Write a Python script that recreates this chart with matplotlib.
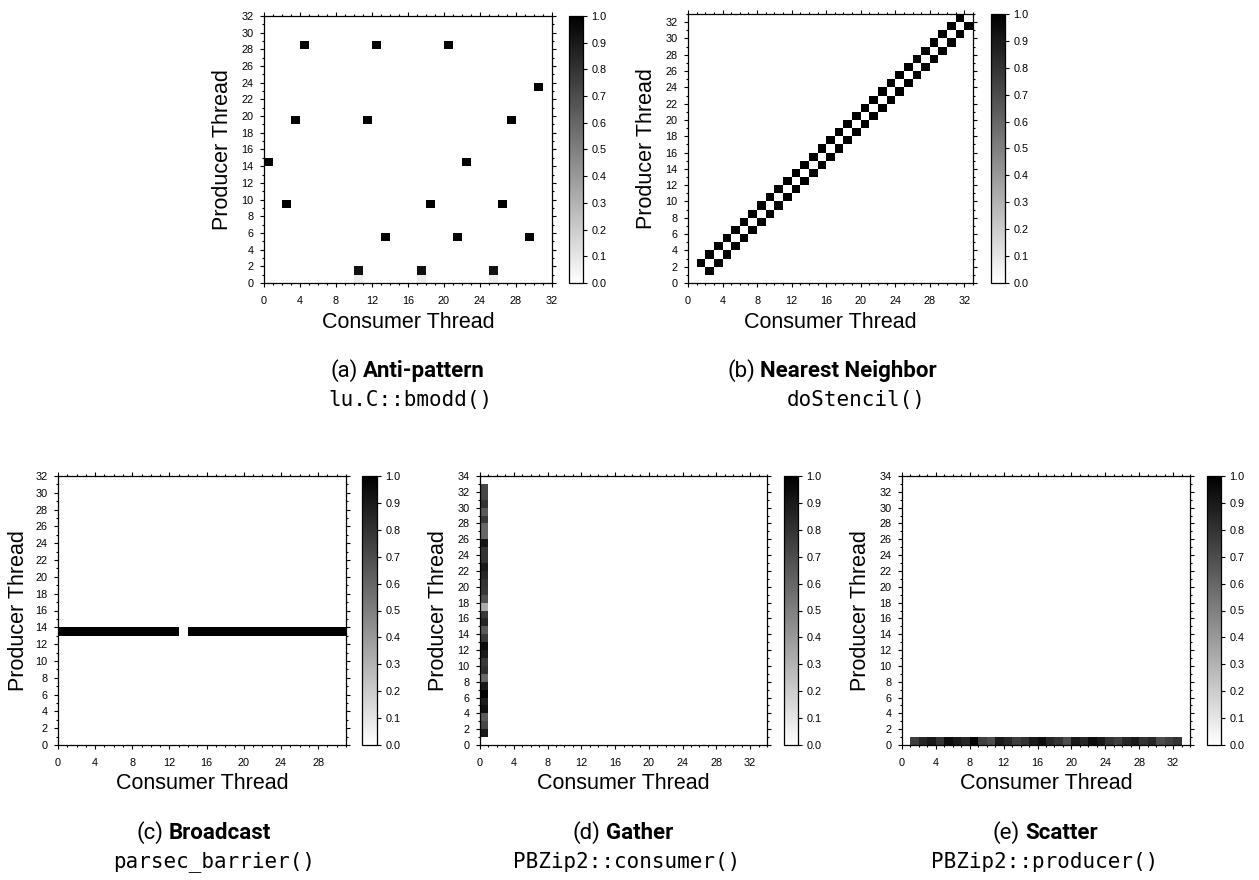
import matplotlib
matplotlib.use("Agg")
import matplotlib.pyplot as plt
import numpy as np
from matplotlib.ticker import MultipleLocator

# ---------------- data ----------------
# (a) Anti-pattern: lu.C::bmodd()
a_consumer = [4, 12, 20, 30, 3, 11, 27, 0, 22, 2, 18, 26, 13, 21, 29, 10, 17, 25, 10, 17, 25]
a_producer = [28, 28, 28, 23, 19, 19, 19, 14, 14, 9, 9, 9, 5, 5, 5, 1, 1, 1, 0, 0, 0]
a_value = [1.0, 1.0, 1.0, 1.0, 1.0, 1.0, 1.0, 1.0, 1.0, 1.0, 1.0, 1.0, 1.0, 1.0, 1.0,
           0.93, 0.93, 0.93, 0.07, 0.07, 0.07]

# (b) Nearest Neighbor: doStencil()
b_consumer = [1, 2, 2, 3, 3, 4, 4, 5, 5, 6, 6, 7, 7, 8, 8, 9, 9, 10, 10, 11, 11, 12, 12,
              13, 13, 14, 14, 15, 15, 16, 16, 17, 17, 18, 18, 19, 19, 20, 20, 21, 21, 22, 22,
              23, 23, 24, 24, 25, 25, 26, 26, 27, 27, 28, 28, 29, 29, 30, 30, 31, 31, 32]
b_producer = [2, 1, 3, 2, 4, 3, 5, 4, 6, 5, 7, 6, 8, 7, 9, 8, 10, 9, 11, 10, 12, 11, 13,
              12, 14, 13, 15, 14, 16, 15, 17, 16, 18, 17, 19, 18, 20, 19, 21, 20, 22, 21, 23,
              22, 24, 23, 25, 24, 26, 25, 27, 26, 28, 27, 29, 28, 30, 29, 31, 30, 32, 31]
b_value = [1.0] * len(b_consumer)

# (c) Broadcast: parsec_barrier()
c_consumer = [0, 1, 2, 3, 4, 5, 6, 7, 8, 9, 10, 11, 12, 14, 15, 16, 17, 18, 19, 20, 21, 22,
              23, 24, 25, 26, 27, 28, 29, 30]
c_producer = [13] * len(c_consumer)
c_value = [1.0] * len(c_consumer)

# (d) Gather: PBZip2::consumer()
d_producer = [1, 2, 3, 4, 5, 6, 7, 8, 9, 10, 11, 12, 13, 14, 15, 16, 17, 18, 19, 20, 21, 22,
              23, 24, 25, 26, 27, 28, 29, 30, 31, 32]
d_consumer = [0] * len(d_producer)
d_value = [0.9, 0.72, 0.65, 0.95, 0.9, 1.0, 0.9, 0.6, 0.82, 0.78, 0.9, 0.95, 0.78, 0.65,
           0.85, 0.78, 0.33, 0.68, 0.78, 0.8, 0.85, 0.9, 0.8, 0.8, 0.92, 0.6, 0.6, 0.78,
           0.65, 0.8, 0.72, 0.72]

# (e) Scatter: PBZip2::producer()
e_consumer = [1, 2, 3, 4, 5, 6, 7, 8, 9, 10, 11, 12, 13, 14, 15, 16, 17, 18, 19, 20, 21, 22,
              23, 24, 25, 26, 27, 28, 29, 30, 31, 32]
e_producer = [0] * len(e_consumer)
e_value = [0.75, 0.85, 0.9, 0.8, 0.95, 0.9, 0.85, 1.0, 0.75, 0.7, 0.9, 0.85, 0.75, 0.8,
           0.9, 0.95, 0.85, 0.8, 0.7, 0.9, 0.85, 0.95, 0.9, 0.8, 0.75, 0.85, 0.9, 0.8,
           0.85, 0.7, 0.75, 0.8]

cbar_ticks = [0.0, 0.1, 0.2, 0.3, 0.4, 0.5, 0.6, 0.7, 0.8, 0.9, 1.0]

captions = [("(a)", "Anti-pattern", "lu.C::bmodd()"),
            ("(b)", "Nearest Neighbor", "doStencil()"),
            ("(c)", "Broadcast", "parsec_barrier()"),
            ("(d)", "Gather", "PBZip2::consumer()"),
            ("(e)", "Scatter", "PBZip2::producer()")]

# ---------------- layout ----------------
W, H = 1259, 880
fig = plt.figure(figsize=(W / 100, H / 100), dpi=100)
fig.patch.set_facecolor("white")


def rect(l, t, r, b):
    return [l / W, 1 - b / H, (r - l) / W, (b - t) / H]


TICKFONT = "Liberation Sans"
panels = [
    dict(data=(a_consumer, a_producer, a_value), ax=(264, 16, 552, 283), cb=(569, 583),
         nx=32, ny=32, xmaj=4, ylab_x=222, xlab_y=322, cap=(408, 371, 410, 400)),
    dict(data=(b_consumer, b_producer, b_value), ax=(688, 14, 973, 283), cb=(991, 1005),
         nx=33, ny=33, xmaj=4, ylab_x=646, xlab_y=322, cap=(832, 371, 856, 400)),
    dict(data=(c_consumer, c_producer, c_value), ax=(58, 476, 346, 745), cb=(362, 377),
         nx=31, ny=32, xmaj=4, ylab_x=19, xlab_y=783, cap=(204, 833, 214, 862)),
    dict(data=(d_consumer, d_producer, d_value), ax=(480, 476, 767, 745), cb=(784, 798),
         nx=34, ny=34, xmaj=4, ylab_x=439, xlab_y=783, cap=(623, 833, 627, 862)),
    dict(data=(e_consumer, e_producer, e_value), ax=(902, 476, 1190, 745), cb=(1207, 1221),
         nx=34, ny=34, xmaj=4, ylab_x=861, xlab_y=783, cap=(1045, 833, 1045, 862)),
]

renderer = fig.canvas.get_renderer()

for P, cap in zip(panels, captions):
    l, t, r, b = P["ax"]
    ax = fig.add_axes(rect(l, t, r, b))
    cons, prod, val = P["data"]
    Z = np.full((P["ny"], P["nx"]), np.nan)
    for c, p, v in zip(cons, prod, val):
        Z[p, c] = v
    mesh = ax.pcolormesh(np.arange(P["nx"] + 1), np.arange(P["ny"] + 1),
                         np.ma.masked_invalid(Z), cmap="gray_r", vmin=0, vmax=1,
                         shading="flat")
    ax.set_xlim(0, P["nx"])
    ax.set_ylim(0, P["ny"])
    ax.xaxis.set_major_locator(MultipleLocator(P["xmaj"]))
    ax.xaxis.set_minor_locator(MultipleLocator(1))
    ax.yaxis.set_major_locator(MultipleLocator(2))
    ax.yaxis.set_minor_locator(MultipleLocator(1))
    ax.tick_params(which="both", direction="out", top=True, right=True,
                   labeltop=False, labelright=False, width=0.8, color="black")
    ax.tick_params(which="major", length=3.2)
    ax.tick_params(which="minor", length=1.6)
    ax.tick_params(axis="x", which="major", pad=6.5, labelsize=7.8)
    ax.tick_params(axis="y", which="major", pad=4.5, labelsize=7.8)
    for lab in ax.get_xticklabels() + ax.get_yticklabels():
        lab.set_family(TICKFONT)
    for s in ax.spines.values():
        s.set_linewidth(0.9)

    # colorbar
    cax = fig.add_axes(rect(P["cb"][0], t, P["cb"][1], b))
    cbar = fig.colorbar(mesh, cax=cax, ticks=cbar_ticks)
    cbar.ax.yaxis.set_major_formatter("{x:.1f}")
    cbar.ax.tick_params(direction="out", length=3, width=0.8, labelsize=7.8, pad=3)
    for lab in cbar.ax.get_yticklabels():
        lab.set_family(TICKFONT)
    cbar.outline.set_linewidth(0.9)
    cbar.ax.minorticks_off()

    # axis labels
    cy = (t + b) / 2
    fig.text(P["ylab_x"] / W, 1 - cy / H, "Producer Thread", rotation=90,
             ha="center", va="center", fontsize=15.5, family=TICKFONT)
    fig.text(((l + r) / 2) / W, 1 - P["xlab_y"] / H, "Consumer Thread",
             ha="center", va="center", fontsize=15.5, family=TICKFONT)

    # captions
    cx1, cy1, cx2, cy2 = P["cap"]
    t1 = fig.text(0, 0, cap[0], fontsize=16, family="Roboto", va="center", ha="left")
    t2 = fig.text(0, 0, cap[1], fontsize=16, family="Roboto", weight="bold",
                  va="center", ha="left")
    w1 = t1.get_window_extent(renderer).width
    w2 = t2.get_window_extent(renderer).width
    gap = 5
    x0 = cx1 - (w1 + gap + w2) / 2
    t1.set_position((x0 / W, 1 - cy1 / H))
    t2.set_position(((x0 + w1 + gap) / W, 1 - cy1 / H))
    fig.text(cx2 / W, 1 - cy2 / H, cap[2], fontsize=15, family="DejaVu Sans Mono",
             ha="center", va="center")

fig.savefig("out.png", dpi=100, facecolor="white")
